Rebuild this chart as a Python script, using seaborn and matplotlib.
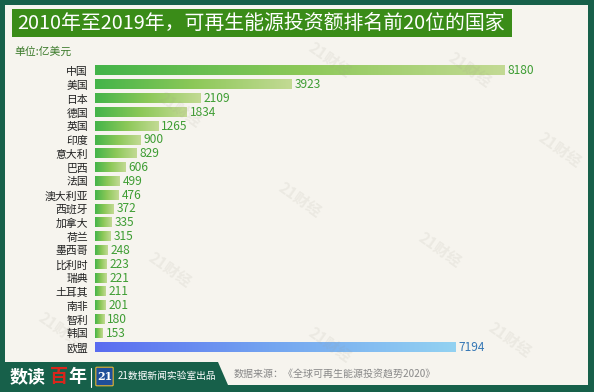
import numpy as np
import pandas as pd
import seaborn as sns
import matplotlib.pyplot as plt
from matplotlib.colors import LinearSegmentedColormap
from matplotlib.patches import Polygon, Rectangle, FancyBboxPatch

# 数据
countries = ['中国', '美国', '日本', '德国', '英国', '印度', '意大利', '巴西', '法国', '澳大利亚',
             '西班牙', '加拿大', '荷兰', '墨西哥', '比利时', '瑞典', '土耳其', '南非', '智利', '韩国', '欧盟']
values = [8180, 3923, 2109, 1834, 1265, 900, 829, 606, 499, 476,
          372, 335, 315, 248, 223, 221, 211, 201, 180, 153, 7194]
title = '2010年至2019年，可再生能源投资额排名前20位的国家'
unit = '单位:亿美元'
source = '数据来源：《全球可再生能源投资趋势2020》'

df = pd.DataFrame({'国家': countries, '投资额': values})

sns.set_theme(style='white')
plt.rcParams['font.family'] = ['Noto Sans CJK SC', 'DejaVu Sans']

W, H = 594, 392
fig = plt.figure(figsize=(W / 100, H / 100), dpi=100)
fig.patch.set_facecolor('#17604a')

def fx(px):
    return px / W

def fy(py):
    return 1 - py / H

# 米色底板
cream = '#f6f4ee'
fig.patches.append(Polygon([(fx(5), fy(5)), (fx(588), fy(5)), (fx(588), fy(385)),
                            (fx(228), fy(385)), (fx(218), fy(362)), (fx(5), fy(362))],
                           closed=True, transform=fig.transFigure, facecolor=cream,
                           edgecolor='none', zorder=-2))

# 水印
for px, py in [(180, 110), (330, 60), (470, 70), (560, 150), (300, 200), (170, 270),
               (440, 250), (330, 345), (510, 340), (60, 330)]:
    fig.text(fx(px), fy(py), '21财经', rotation=-35, color='#a09a8a', alpha=0.12, fontsize=11,
             ha='center', va='center', zorder=5, fontweight='bold')

# 标题
fig.patches.append(Rectangle((fx(12), fy(37)), fx(500), 28 / H, transform=fig.transFigure,
                             facecolor='#3a8c18', edgecolor='none', zorder=-1))
fig.text(fx(17), fy(23), title, color='white', fontsize=14.3, va='center', ha='left', zorder=2)
fig.text(fx(14), fy(52), unit, color='#3b7a2a', fontsize=7.8, va='center', ha='left')

# 坐标轴
ax = fig.add_axes([fx(95), fy(354), fx(490), (354 - 64) / H])
ax.set_zorder(1)
ax.set_facecolor('none')
sns.barplot(data=df, x='投资额', y='国家', ax=ax, width=0.66, color='#45b549',
            edgecolor='none', saturation=1)

xmax = 490 / 0.0501
green = LinearSegmentedColormap.from_list('g', ['#43b449', '#8cc858', '#c3da94'])
blue = LinearSegmentedColormap.from_list('b', ['#5a6cf0', '#74a6f0', '#93d2f2'])
grad = np.linspace(0, 1, 256).reshape(1, -1)
for i, p in enumerate(ax.patches):
    x0, y0, w, h = p.get_x(), p.get_y(), p.get_width(), p.get_height()
    cmap = blue if countries[i] == '欧盟' else green
    ax.imshow(grad, cmap=cmap, aspect='auto', extent=[x0, x0 + w, y0 + h, y0],
              interpolation='bilinear', zorder=2)
    p.set_visible(False)

for i, v in enumerate(values):
    c = '#3577b5' if countries[i] == '欧盟' else '#3e9d33'
    ax.text(v + 60, i, str(v), va='center', ha='left', fontsize=8.6, color=c)

ax.set_xlim(0, xmax)
ax.set_ylim(len(countries) - 0.5, -0.5)
ax.set_xlabel('')
ax.set_ylabel('')
ax.set_xticks([])
ax.tick_params(axis='y', length=0, pad=5, labelsize=7.8, labelcolor='#222222')
for lab in ax.get_yticklabels():
    lab.set_fontweight('medium')
sns.despine(ax=ax, left=True, bottom=True)

# 底部
fig.text(fx(10), fy(377), '数读', color='white', fontsize=13, fontweight='bold', va='center')
fig.text(fx(50), fy(377), '百', color='#d8261c', fontsize=13, fontweight='bold', va='center')
fig.text(fx(68), fy(377), '年', color='white', fontsize=13, fontweight='bold', va='center')
fig.lines.append(plt.Line2D([fx(91), fx(91)], [fy(368), fy(387)], transform=fig.transFigure,
                            color='white', lw=0.8))
fig.patches.append(FancyBboxPatch((fx(97), fy(385)), fx(15), 17 / H,
                                  boxstyle='round,pad=0.002', transform=fig.transFigure,
                                  facecolor='#1f4f9a', edgecolor='#e8b431', lw=0.8))
fig.text(fx(104.5), fy(376), '21', color='white', fontsize=8, fontweight='bold',
         ha='center', va='center', family=['DejaVu Serif'])
fig.text(fx(118), fy(376), '21数据新闻实验室出品', color='white', fontsize=7, va='center')
fig.text(fx(234), fy(374), source, color='#888888', fontsize=7.2, va='center')

fig.savefig('out.png', dpi=100, facecolor=fig.get_facecolor())
